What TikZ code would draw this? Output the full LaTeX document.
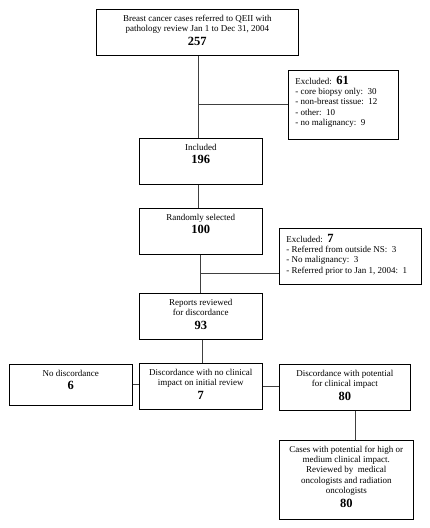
\documentclass[tikz,border=0pt]{standalone}
\usepackage{fontspec}
\setmainfont{Liberation Serif}
\usetikzlibrary{calc}
\newcommand{\boxtxt}[3]{\parbox[c][#2pt][t]{#1pt}{\centering\rule{0pt}{12pt}#3}}
\newcommand{\listtxt}[3]{\parbox[c][#2pt][t]{#1pt}{\raggedright\leftskip=7pt\rule{0pt}{14pt}#3}}
\newcommand{\bignum}[1]{\par{\fontsize{12.5}{13.5}\selectfont\bfseries #1\par}}
\newcommand{\exnum}[1]{{\fontsize{12.5}{10}\selectfont\bfseries #1}}
\tikzset{
  flowbox/.style={draw, line width=0.7pt, inner sep=0pt, anchor=north west, font=\fontsize{9}{10.3}\selectfont},
  link/.style={draw=black!75, line width=0.8pt}
}
\begin{document}
\begin{tikzpicture}[x=1pt,y=-1pt]
\useasboundingbox (0,0) rectangle (429,528);
\node[flowbox] (cases) at (96,9) {\boxtxt{202}{46}{Breast cancer cases referred to QEII with\\ pathology review Jan 1 to Dec 31, 2004\bignum{257}}};
\node[flowbox] (excl1) at (288,70) {\listtxt{110}{69}{Excluded:\ \ \exnum{61}\\ - core biopsy only:\ \ 30\\ - non-breast tissue:\ \ 12\\ - other:\ \ 10\\ - no malignancy:\ \ 9}};
\node[flowbox] (incl) at (139,138) {\boxtxt{123}{46}{Included\bignum{196}}};
\node[flowbox] (rand) at (139,208) {\boxtxt{123}{46}{Randomly selected\bignum{100}}};
\node[flowbox] (excl2) at (279,228) {\listtxt{142}{56}{Excluded:\ \ \exnum{7}\\ - Referred from outside NS:\ \ 3\\ - No malignancy:\ \ 3\\ - Referred prior to Jan 1, 2004:\ \ 1}};
\node[flowbox] (rep) at (139,293) {\boxtxt{123}{46}{Reports reviewed\\ for discordance\bignum{93}}};
\node[flowbox] (nodisc) at (9,364) {\boxtxt{123}{41}{No discordance\bignum{6}}};
\node[flowbox] (noimp) at (139,363) {\boxtxt{123}{46}{Discordance with no clinical\\ impact on initial review\bignum{7}}};
\node[flowbox] (pot) at (279,364) {\boxtxt{131}{46}{Discordance with potential\\ for clinical impact\bignum{80}}};
\node[flowbox] (high) at (279,440) {\boxtxt{134}{79}{Cases with potential for high or\\ medium clinical impact.\\ Reviewed by\ \ medical\\ oncologists and radiation\\ oncologists\bignum{80}}};
\coordinate (j1) at ($(cases.south)+(1,0)$);
\coordinate (j2) at (rand.south |- 0,273);
\coordinate (j3) at (355,0);
\draw[link] (j1) -- (j1 |- incl.north);
\draw[link] (j1 |- excl1.west) -- (excl1.west);
\draw[link] (j1 |- incl.south) -- (j1 |- rand.north);
\draw[link] (rand.south) -- (rand.south |- rep.north);
\draw[link] (j2) -- (j2 -| excl2.west);
\draw[link] ($(rep.south)+(1.5,0)$) -- ($(rep.south |- noimp.north)+(1.5,0)$);
\draw[link] (nodisc.east) -- (nodisc.east -| noimp.west);
\draw[link] (noimp.east) -- (noimp.east -| pot.west);
\draw[link] (j3 |- pot.south) -- (j3 |- high.north);
\end{tikzpicture}
\end{document}
